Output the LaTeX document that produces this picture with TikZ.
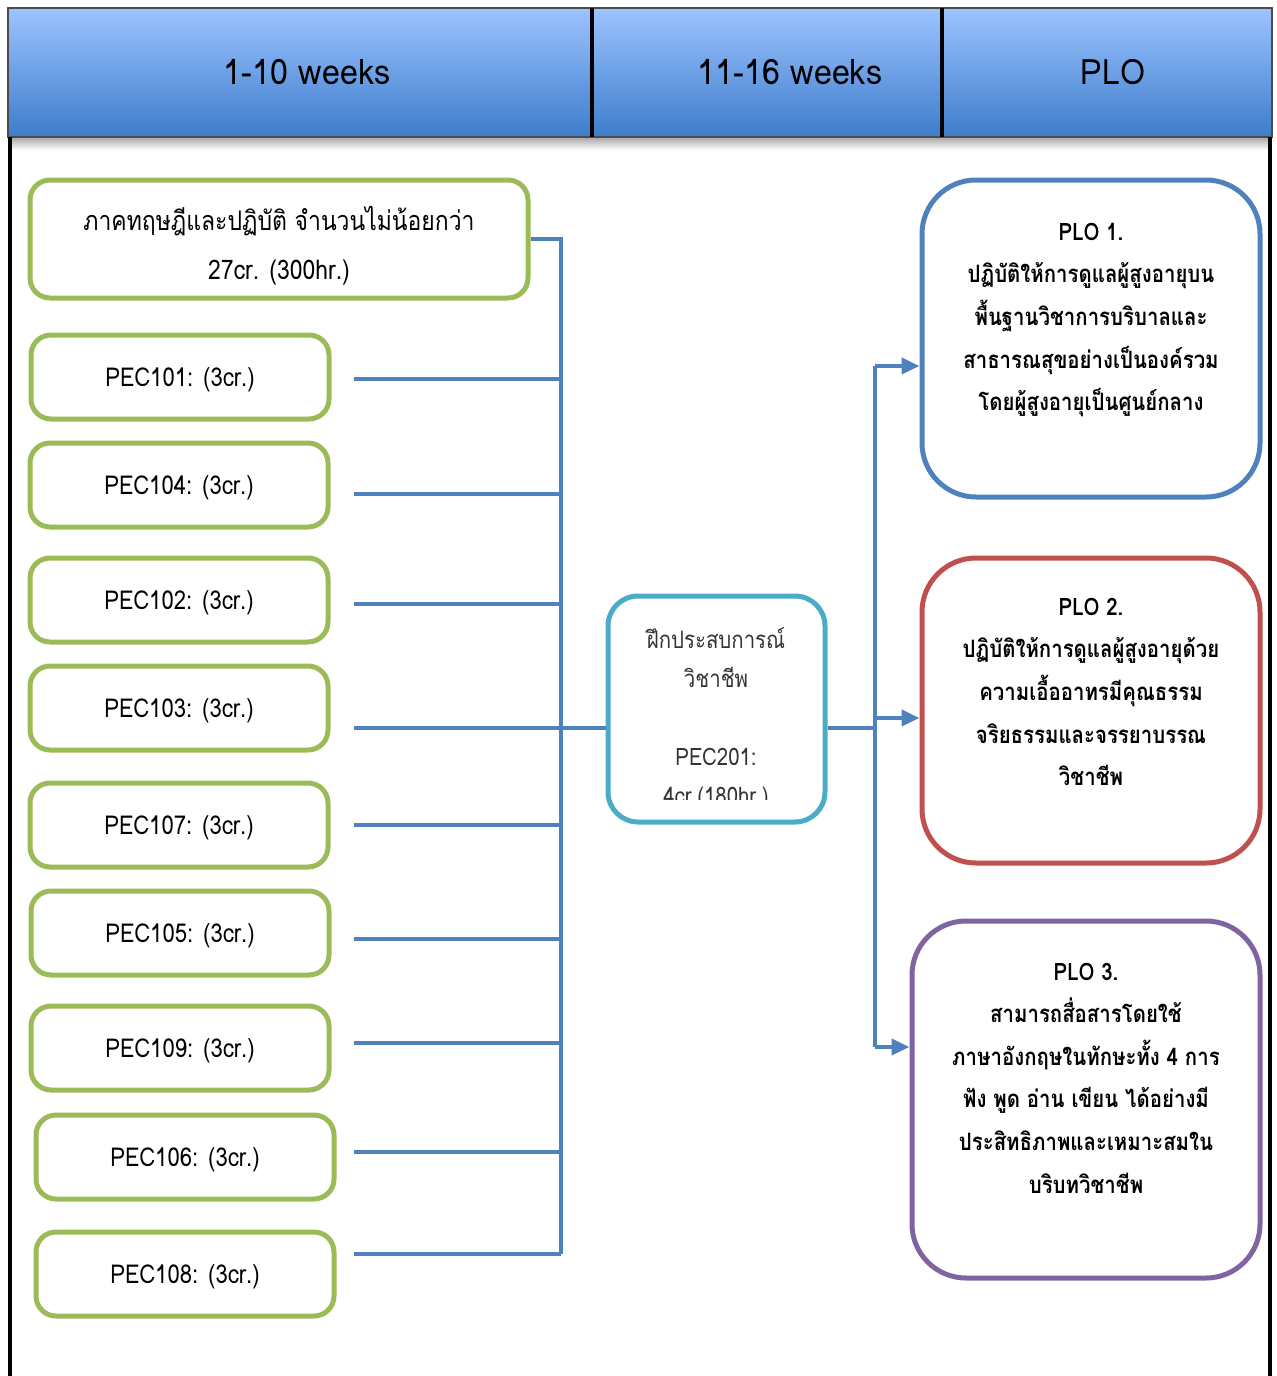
\documentclass[tikz,border=0pt]{standalone}
\usepackage{fontspec}
\setmainfont{Loma}[Script=Thai, FakeStretch=0.85]
\newfontfamily\fonteentete{Loma}[Script=Thai, FakeStretch=0.92]
\usetikzlibrary{positioning,arrows.meta}
\definecolor{vertcours}{HTML}{9BBB59}
\definecolor{bleulien}{HTML}{4F81BD}
\definecolor{cyanstage}{HTML}{4BACC6}
\definecolor{rougeplo}{HTML}{C0504D}
\definecolor{violetplo}{HTML}{8064A2}
\definecolor{hautbleu}{HTML}{9DC3FF}
\definecolor{basbleu}{HTML}{3D7DCB}
\begin{document}
\begin{tikzpicture}[x=0.5pt,y=-0.5pt]
	\tikzset{boite/.style={draw=vertcours, line width=2.5pt, rounded corners=10pt, minimum width=149pt, minimum height=42pt, inner sep=0pt, font=\fontsize{13}{15}\selectfont},
	plo/.style={line width=2.5pt, rounded corners=27pt, minimum width=169pt, inner sep=0pt},
	texteplo/.style={align=center, inner sep=0pt, font=\bfseries\fontsize{12}{21.3}\selectfont},
	entete/.style={font=\fonteentete\fontsize{17.5}{20}\selectfont},
	fleche/.style={draw=bleulien, line width=2pt}};

	\useasboundingbox (0,0) rectangle (1277,1376);

	% bandeau
	\shade[top color=black!35, bottom color=white] (8,137) rectangle (1272,150);
	\shade[top color=hautbleu, bottom color=basbleu, draw=black!70, line width=0.6pt] (8,8) rectangle (1272,137);
	\draw[line width=2pt] (592,8) -- (592,137) (942,8) -- (942,137);
	\draw[line width=1.6pt] (10,137) -- (10,1376);
	\draw[line width=2pt] (1270,137) -- (1270,1376);
	\node[entete] (sem1) at (307,72) {1-10 weeks};
	\node[entete] (sem2) at (790,72) {11-16 weeks};
	\node[entete] (plotitre) at (1113,72) {PLO};

	\node[boite, minimum width=249pt, minimum height=59pt] (theorie) at (279,239) {};
	\node[align=center, inner sep=0pt, font=\fontsize{13.5}{24.5}\selectfont] (textetheorie) at (279,246) {ภาคทฤษฎีและปฏิบัติ จำนวนไม่น้อยกว่า\\27cr. (300hr.)};

	\foreach \nom/\xc/\yc/\yl in {101/180/377/379, 104/179/485/494, 102/179/600/604, 103/179/708/728, 107/179/825/825, 105/180/933/939, 109/180/1048/1043, 106/185/1157/1152, 108/185/1274/1254}{
		\node[boite] (pec\nom) at (\xc,\yc) {};
		\node[font=\fontsize{13}{15}\selectfont] (tpec\nom) at (\xc,\yc+3) {PEC\nom: (3cr.)};
		\coordinate (d\nom) at (354,\yl);
		\coordinate (b\nom) at (561,\yl);
		\draw[fleche] (d\nom) -- (b\nom);
	}

	\draw[fleche] (theorie.east) -- (theorie.east -| b101) -- (b108);

	% stage
	\node[draw=cyanstage, line width=2.5pt, rounded corners=15pt, minimum width=108.5pt, minimum height=113pt] (stage) at (716.5,709) {};
	\begin{scope}
		\clip (610,598) rectangle (823,799);
		\node[align=center, font=\fontsize{12}{19.5}\selectfont, text=black!80] (textestage) at (716,718) {ฝึกประสบการณ์\\วิชาชีพ\\[19.5pt]PEC201:\\4cr.(180hr.)};
	\end{scope}
	\draw[fleche] (b103) -- (b103 -| stage.west);

	% PLO
	\node[plo, draw=bleulien, minimum height=158.5pt] (plo1) at (1091,338.5) {};
	\node[plo, draw=rougeplo, minimum height=152.5pt] (plo2) at (1091,710.5) {};
	\node[plo, draw=violetplo, minimum width=174pt, minimum height=178.5pt] (plo3) at (1086,1099.5) {};

	\node[texteplo] (tplo1) at (1091,320) {PLO 1.\\ปฏิบัติให้การดูแลผู้สูงอายุบน\\พื้นฐานวิชาการบริบาลและ\\สาธารณสุขอย่างเป็นองค์รวม\\โดยผู้สูงอายุเป็นศูนย์กลาง};
	\node[texteplo] (tplo2) at (1091,692) {PLO 2.\\ปฏิบัติให้การดูแลผู้สูงอายุด้วย\\ความเอื้ออาทรมีคุณธรรม\\จริยธรรมและจรรยาบรรณ\\วิชาชีพ};
	\node[texteplo] (tplo3) at (1086,1078) {PLO 3.\\สามารถสื่อสารโดยใช้\\ภาษาอังกฤษในทักษะทั้ง 4 การ\\ฟัง พูด อ่าน เขียน ได้อย่างมี\\ประสิทธิภาพและเหมาะสมใน\\บริบทวิชาชีพ};

	\coordinate (j1) at (875,366);
	\coordinate (j2) at (875,718);
	\coordinate (j3) at (875,1047);
	\draw[fleche] (stage.east |- b103) -- (b103 -| j1);
	\draw[fleche] (j1) -- (j3);
	\foreach \i in {1,2,3}{
		\draw[fleche, -{Triangle[length=9pt, width=8pt]}, bleulien] (j\i) -- (j\i -| plo\i.west);
	}
\end{tikzpicture}
\end{document}
